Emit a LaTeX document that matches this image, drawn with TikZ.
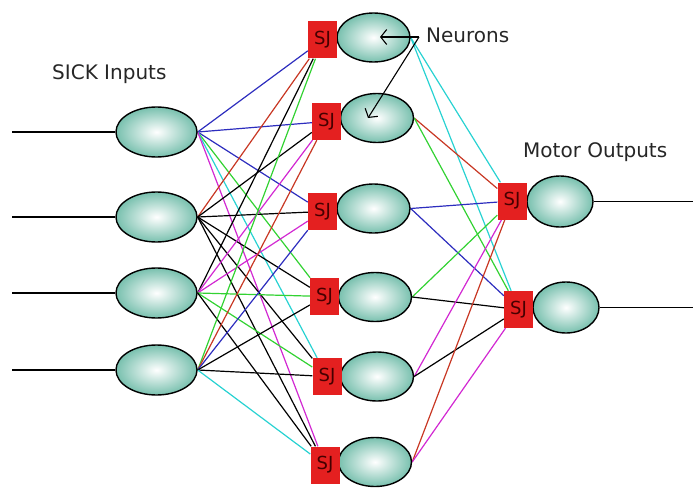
\documentclass[tikz,border=0pt]{standalone}
\usepackage{fontspec}
\setmainfont{DejaVu Sans}
\usetikzlibrary{arrows.meta,backgrounds,shapes.geometric}

\definecolor{wblue}{RGB}{45,45,190}
\definecolor{wred}{RGB}{200,55,35}
\definecolor{wgreen}{RGB}{50,210,50}
\definecolor{wcyan}{RGB}{40,210,210}
\definecolor{wmag}{RGB}{210,40,210}
\definecolor{sjred}{RGB}{228,32,32}
\definecolor{sjtext}{RGB}{70,0,0}
\definecolor{cellteal}{RGB}{120,192,174}

\begin{document}
\begin{tikzpicture}[x=1pt,y=-1pt,
  cell/.style 2 args={ellipse, draw=black, line width=1.4pt, inner sep=0pt,
    inner color=white, outer color=cellteal,
    minimum width=#1, minimum height=#2},
  incell/.style={cell={81pt}{50pt}},
  hidcell/.style={cell={73pt}{49pt}},
  outcell/.style={cell={66pt}{51pt}},
  sjbox/.style={rectangle, fill=sjred, draw=none, inner sep=0pt,
    minimum width=29pt, minimum height=37pt, text=sjtext,
    font=\fontsize{18}{18}\selectfont},
  lbl/.style={inner sep=0pt, font=\fontsize{20}{24}\selectfont, text=black!85},
  wire/.style={line width=1.2pt},
  pointer/.style={line width=1.1pt, -{Straight Barb[length=6pt,width=15pt,line width=1.1pt]}}
]
\path[use as bounding box] (0,0) rectangle (693,487);

% input layer with its feed lines
\foreach \n/\y in {1/132,2/217,3/293,4/370} {
  \node[incell] (i\n) at (156.5,\y) {};
  \coordinate (in\n) at (12,\y);
  \draw[wire] (in\n) -- (i\n.west);
}

% hidden layer: summing junction boxes in front of each neuron
\node[hidcell] (h1) at (373.5,37.5) {};
\node[hidcell] (h2) at (377,118) {};
\node[hidcell] (h3) at (373.5,208.5) {};
\node[hidcell] (h4) at (375,297) {};
\node[hidcell] (h5) at (377,376.5) {};
\node[hidcell] (h6) at (375,462) {};
\node[sjbox] (s1) at (322.5,40) {SJ};
\node[sjbox] (s2) at (326.5,121.5) {SJ};
\node[sjbox] (s3) at (322.5,211.5) {SJ};
\node[sjbox] (s4) at (324.5,296.5) {SJ};
\node[sjbox] (s5) at (327,376.5) {SJ};
\node[sjbox] (s6) at (325,465) {SJ};

% output layer
\node[outcell] (o1) at (560,201.5) {};
\node[outcell] (o2) at (566,307.5) {};
\node[sjbox] (t1) at (512,201) {SJ};
\node[sjbox] (t2) at (518.5,309.5) {SJ};
\coordinate (out1) at (693,201.5);
\coordinate (out2) at (693,307.5);
\draw[wire] (o1.east) -- (out1);
\draw[wire] (o2.east) -- (out2);

% labels
\node[lbl, anchor=base west] (lin) at (52,80) {SICK Inputs};
\node[lbl, anchor=base west] (lneu) at (426,43) {Neurons};
\node[lbl, anchor=base west] (lout) at (523,157) {Motor Outputs};

\coordinate (nfork) at (419,37);
\coordinate (ntip1) at (380,37);
\coordinate (ntip2) at (368,118);
\draw[pointer] (nfork) -- (ntip1);
\draw[pointer] (nfork) -- (ntip2);

\begin{pgfonlayer}{background}
  % input -> hidden weights
  \foreach \a/\b/\c in {
    i1/s1/wblue, i1/s2/wblue, i1/s3/wblue, i1/s4/wgreen, i1/s5/wcyan, i1/s6/wmag,
    i2/s1/wred, i2/s2/black, i2/s3/black, i2/s4/black, i2/s5/black, i2/s6/black,
    i3/s1/black, i3/s2/wmag, i3/s3/wmag, i3/s4/wgreen, i3/s5/wgreen, i3/s6/black,
    i4/s1/wgreen, i4/s2/wred, i4/s3/wblue, i4/s4/black, i4/s5/black, i4/s6/wcyan}
    \draw[wire,\c] (\a.east) -- (\b);
  % hidden -> output weights
  \foreach \a/\b/\c in {
    h1/t1/wcyan, h1/t2/wcyan, h2/t1/wred, h2/t2/wgreen,
    h3/t1/wblue, h3/t2/wblue, h4/t1/wgreen, h4/t2/black,
    h5/t1/wmag, h5/t2/black, h6/t1/wred, h6/t2/wmag}
    \draw[wire,\c] (\a.east) -- (\b);
\end{pgfonlayer}
\end{tikzpicture}
\end{document}
